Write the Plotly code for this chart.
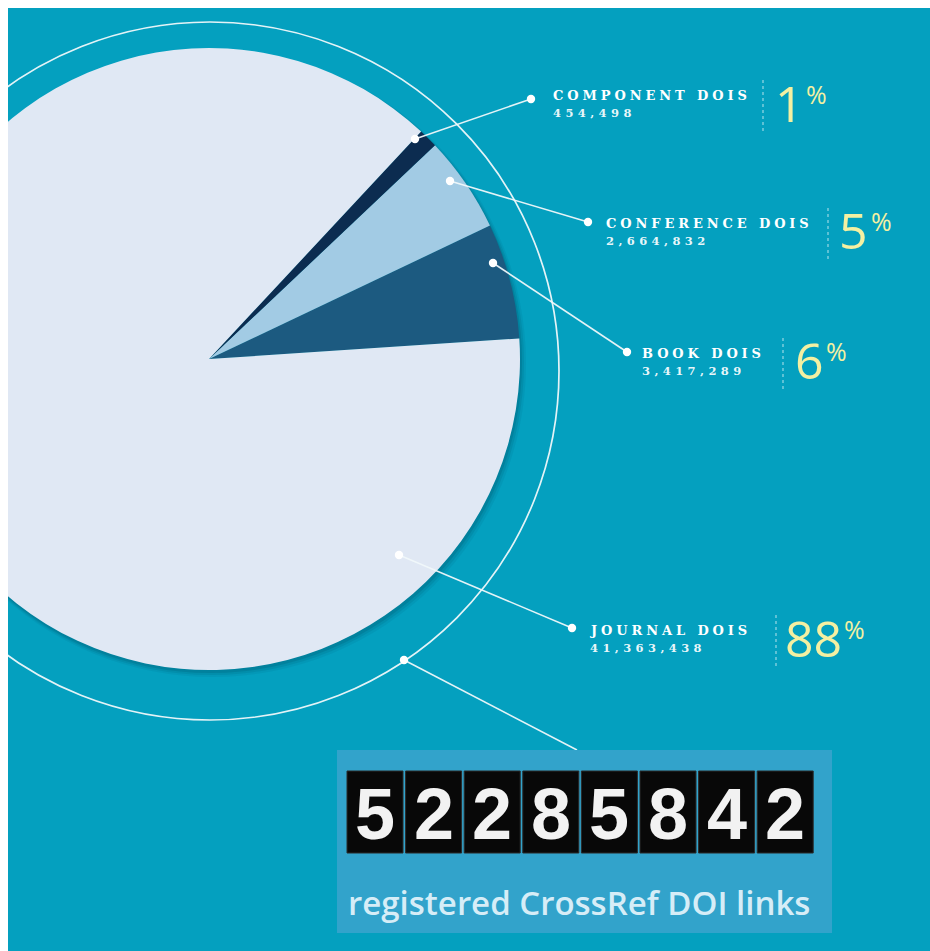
import plotly.graph_objects as go

# ---------------- data ----------------
categories = ["Book DOIs", "Conference DOIs", "Component DOIs", "Journal DOIs"]
counts = [3417289, 2664832, 454498, 41363438]
percents = [6, 5, 1, 88]
slice_colors = ["#1c5a80", "#a2cbe4", "#0c2c50", "#e0e8f4"]
total_links = 52285842
caption = "registered CrossRef DOI links"

# ---------------- geometry helpers (screen px -> paper) ----------------
S = 120            # part of the paper hidden off the left edge of the window
W, H = 930 + S, 951
def px(x):
    return (x + S) / W
def py(y):
    return 1 - y / H

TEAL = "rgb(4,160,191)"
LINE = "rgba(240,248,250,0.95)"
YELLOW = "#f4f0a2"

cx, cy, r = 209, 359, 311

fig = go.Figure()
fig.add_trace(go.Pie(
    labels=categories, values=percents, sort=False,
    direction="counterclockwise", rotation=64.6,
    marker=dict(colors=slice_colors, line=dict(width=0)),
    textinfo="none", hoverinfo="label+percent", showlegend=False,
    domain=dict(x=[px(cx - r), px(cx + r)], y=[py(cy + r), py(cy - r)]),
))

shapes = []
# teal background
shapes.append(dict(type="rect", xref="paper", yref="paper", layer="below",
                   x0=px(8), x1=px(930), y0=py(951), y1=py(8),
                   fillcolor=TEAL, line=dict(width=0)))
# soft shadow under the pie
for k, op in [(6, 0.07), (4, 0.11), (2, 0.16)]:
    shapes.append(dict(type="circle", xref="paper", yref="paper", layer="below",
                       x0=px(cx - r + 1), x1=px(cx + r + k), y0=py(cy + r + k + 1), y1=py(cy - r + 2),
                       fillcolor=f"rgba(0,60,85,{op})", line=dict(width=0)))
# outer ring
rc_x, rc_y, rr = 210, 371, 349
shapes.append(dict(type="circle", xref="paper", yref="paper", layer="above",
                   x0=px(rc_x - rr), x1=px(rc_x + rr), y0=py(rc_y + rr), y1=py(rc_y - rr),
                   line=dict(color=LINE, width=1.7)))

# leader lines with dots (screen px)
leaders = [((415, 139), (531, 99)), ((450, 181), (588, 222)),
           ((493, 263), (627, 352)), ((399, 555), (572, 628)),
           ((404, 660), (577, 750))]
for (x0, y0), (x1, y1) in leaders:
    shapes.append(dict(type="line", xref="paper", yref="paper", layer="above",
                       x0=px(x0), y0=py(y0), x1=px(x1), y1=py(y1),
                       line=dict(color=LINE, width=1.6)))
dots = [p for pair in leaders for p in pair][:-1]
for (x, y) in dots:
    rd = 4.2
    shapes.append(dict(type="circle", xref="paper", yref="paper", layer="above",
                       x0=px(x - rd), x1=px(x + rd), y0=py(y + rd), y1=py(y - rd),
                       fillcolor="white", line=dict(width=0)))

# white frame at left and top (clips the pie like the original picture)
shapes.append(dict(type="rect", xref="paper", yref="paper", layer="above",
                   x0=px(-S), x1=px(8), y0=py(951), y1=py(0),
                   fillcolor="white", line=dict(width=0)))
shapes.append(dict(type="rect", xref="paper", yref="paper", layer="above",
                   x0=px(-S), x1=px(930), y0=py(8), y1=py(0),
                   fillcolor="white", line=dict(width=0)))

# label block placement (screen px)
blocks = {
    "Component DOIs": dict(lx=551, ly=95, sx=763, sy=(80, 132), nx=773, ptop=85, qx=804),
    "Conference DOIs": dict(lx=604, ly=223, sx=828, sy=(208, 261), nx=837, ptop=212, qx=869),
    "Book DOIs": dict(lx=640, ly=353, sx=783, sy=(338, 390), nx=793, ptop=342, qx=824),
    "Journal DOIs": dict(lx=588, ly=630, sx=776, sy=(615, 667), nx=783, ptop=620, qx=842),
}

annotations = []
for cat, cnt, pct in zip(categories, counts, percents):
    b = blocks[cat]
    annotations.append(dict(xref="paper", yref="paper", x=px(b["lx"]), y=py(b["ly"]),
                            xanchor="left", yanchor="middle", align="left", showarrow=False,
                            text=cat.upper(),
                            font=dict(family="DejaVu Serif", size=13, color="white", weight="bold")))
    annotations.append(dict(xref="paper", yref="paper", x=px(b["lx"]), y=py(b["ly"] + 18),
                            xanchor="left", yanchor="middle", align="left", showarrow=False,
                            text=f"{cnt:,}",
                            font=dict(family="DejaVu Serif", size=11.5, color="rgba(255,255,255,0.92)", weight="bold")))
    shapes.append(dict(type="line", xref="paper", yref="paper", layer="above",
                       x0=px(b["sx"]), x1=px(b["sx"]), y0=py(b["sy"][0]), y1=py(b["sy"][1]),
                       line=dict(color="rgba(190,230,238,0.8)", width=1.2, dash="dot")))
    annotations.append(dict(xref="paper", yref="paper", x=px(b["nx"]), y=py(b["ptop"] + 18),
                            xanchor="left", yanchor="middle", align="left", showarrow=False,
                            text=str(pct),
                            font=dict(family="Open Sans", size=50, color=YELLOW, weight=400)))
    annotations.append(dict(xref="paper", yref="paper", x=px(b["qx"]), y=py(b["ptop"] + 9),
                            xanchor="left", yanchor="middle", align="left", showarrow=False,
                            text="%",
                            font=dict(family="Open Sans", size=25, color=YELLOW, weight=400)))

# counter box
shapes.append(dict(type="rect", xref="paper", yref="paper", layer="above",
                   x0=px(337), x1=px(832), y0=py(933), y1=py(750),
                   fillcolor="rgb(50,163,203)", line=dict(width=0)))
digits = str(total_links)
tile_w, step, tx0, ty0, ty1 = 56, 58.6, 347, 771, 853
for i, d in enumerate(digits):
    x0 = tx0 + i * step
    shapes.append(dict(type="rect", xref="paper", yref="paper", layer="above",
                       x0=px(x0), x1=px(x0 + tile_w), y0=py(ty1), y1=py(ty0),
                       fillcolor="#080808", line=dict(color="#2a2a2a", width=1)))
    annotations.append(dict(xref="paper", yref="paper", x=px(x0 + tile_w / 2), y=py(814),
                            xanchor="center", yanchor="middle", showarrow=False, text=d,
                            font=dict(family="Liberation Sans", size=72, color="#f2f2f2", weight="bold")))
annotations.append(dict(xref="paper", yref="paper", x=px(579), y=py(902),
                        xanchor="center", yanchor="middle", showarrow=False, text=caption,
                        font=dict(family="Open Sans", size=33, color="#d6edf7", weight=600)))

fig.update_layout(
    width=W, height=H, margin=dict(l=0, r=0, t=0, b=0),
    paper_bgcolor="white", plot_bgcolor="white",
    shapes=shapes, annotations=annotations, showlegend=False,
)

post = """
var gd = document.getElementById('{plot_id}');
gd.style.marginLeft = '-%dpx';
document.body.style.margin = '0';
document.body.style.overflow = 'hidden';
gd.querySelectorAll('.annotation-text').forEach(function(t){
  var s = t.textContent;
  if (/DOIS$/.test(s)) { t.style.letterSpacing = '3.9px'; }
  else if (/^[0-9]{1,3}(,[0-9]{3})+$/.test(s)) { t.style.letterSpacing = '4.4px'; }
});
""" % S

fig.write_html("out.html", post_script=post, config={"displayModeBar": False})
